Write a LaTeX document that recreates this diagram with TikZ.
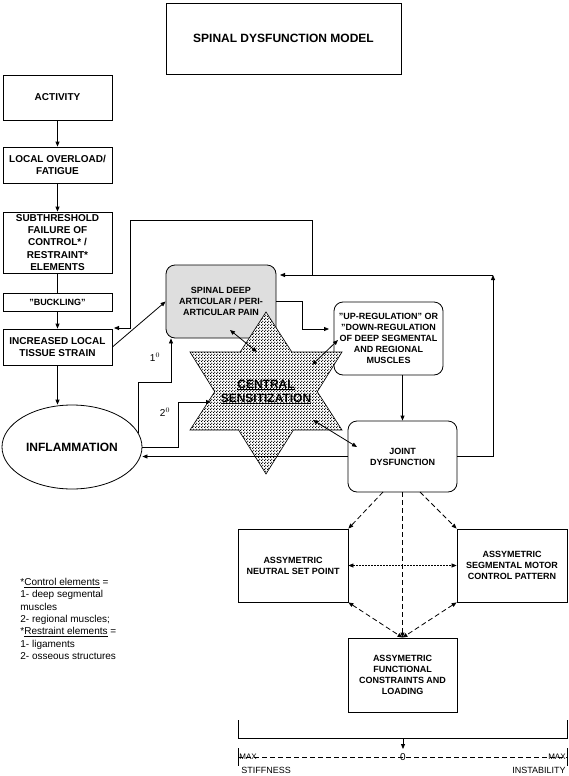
\documentclass[tikz,border=0pt]{standalone}
\usepackage{fontspec}
\setmainfont{Liberation Sans}
\usetikzlibrary{arrows.meta,patterns,shapes.geometric}
\pgfdeclarepatternformonly{densedots}{\pgfpointorigin}{\pgfpoint{3pt}{3pt}}{\pgfpoint{3pt}{3pt}}{%
  \pgfpathcircle{\pgfpoint{0.75pt}{0.75pt}}{0.85pt}%
  \pgfpathcircle{\pgfpoint{2.25pt}{2.25pt}}{0.85pt}%
  \pgfusepath{fill}}
\begin{document}
\begin{tikzpicture}[x=1pt,y=-1pt,line width=0.8pt,
  >={Triangle[length=5pt,width=4pt]},
  box/.style={draw,align=center,inner sep=0pt,font=\bfseries\fontsize{9}{11}\selectfont},
  lbox/.style={box,minimum width=109pt,font=\bfseries\fontsize{10}{12.2}\selectfont},
  rbox/.style={box,rounded corners=9pt,minimum width=109pt},
  sbox/.style={box,minimum width=110pt,minimum height=73pt},
  plain/.style={inner sep=0pt,font=\fontsize{9}{11}\selectfont},
  dsh/.style={dash pattern=on 5pt off 3pt}]
\useasboundingbox (0,0) rectangle (569,776);
% title
\node[box,minimum width=235pt,minimum height=71pt,font=\bfseries\fontsize{12}{14}\selectfont] (title) at (283.5,38.5) {SPINAL DYSFUNCTION MODEL};
% left column
\node[lbox,minimum height=45pt] (act) at (57.5,97.5) {ACTIVITY};
\node[lbox,minimum height=36pt] (over) at (57.5,165) {LOCAL OVERLOAD/\\FATIGUE};
\node[lbox,minimum height=61pt] (sub) at (57.5,242.5) {SUBTHRESHOLD\\FAILURE OF\\CONTROL* /\\RESTRAINT*\\ELEMENTS};
\node[lbox,minimum height=18pt,font=\bfseries\fontsize{9}{11}\selectfont] (buck) at (57.5,302) {"BUCKLING"};
\node[lbox,minimum height=36pt] (inc) at (57.5,347) {INCREASED LOCAL\\TISSUE STRAIN};
\node[draw,ellipse,minimum width=140pt,minimum height=84pt,inner sep=0pt,font=\bfseries\fontsize{12}{14}\selectfont] (infl) at (72,447) {INFLAMMATION};
% right boxes
\node[rbox,minimum width=110pt,minimum height=73pt,fill=black!13] (spinal) at (221,301.5) {SPINAL DEEP\\ARTICULAR / PERI-\\ARTICULAR PAIN};
\node[rbox,minimum height=73pt] (upreg) at (388.5,338.5) {"UP-REGULATION" OR\\"DOWN-REGULATION\\OF DEEP SEGMENTAL\\AND REGIONAL\\MUSCLES};
\node[rbox,minimum height=71pt] (joint) at (402.5,456.5) {JOINT\\DYSFUNCTION};
% star
\fill[white] (266,312) -- (291.8,352) -- (342,352) -- (317.3,391.7) -- (342,430) -- (293.4,430) -- (266,474) -- (238.6,430) -- (190,430) -- (214.7,391.7) -- (190,352) -- (240.2,352) -- cycle;
\filldraw[pattern=densedots,line width=0.6pt] (266,312) -- (291.8,352) -- (342,352) -- (317.3,391.7) -- (342,430) -- (293.4,430) -- (266,474) -- (238.6,430) -- (190,430) -- (214.7,391.7) -- (190,352) -- (240.2,352) -- cycle;
\node[inner sep=0pt,align=center,font=\bfseries\fontsize{12}{14}\selectfont] (cs) at (266,392) {\underline{CENTRAL}\\\underline{SENSITIZATION}};
% bottom boxes
\node[sbox] (nsp) at (293,565.5) {ASSYMETRIC\\NEUTRAL SET POINT};
\node[sbox] (smc) at (512,565.5) {ASSYMETRIC\\SEGMENTAL MOTOR\\CONTROL PATTERN};
\node[box,minimum width=109pt,minimum height=74pt] (fcl) at (402.5,675) {ASSYMETRIC\\FUNCTIONAL\\CONSTRAINTS AND\\LOADING};
% left column arrows
\draw[->] (act.south) -- (over.north);
\draw[->] (over.south) -- (sub.north);
\draw (sub.south) -- (buck.north);
\draw[->] (buck.south) -- (inc.north);
\draw[->] (inc.south) -- (inc.south |- infl.north);
% feedback loop to increased strain
\coordinate (j1) at (312,275);
\coordinate (l1) at (312,220);
\coordinate (l2) at (130,220);
\coordinate (l3) at (130,328);
\coordinate (l4) at (114,328);
\draw[->] (j1) -- (l1) -- (l2) -- (l3) -- (l4);
% joint loop to spinal
\coordinate (r1) at (493,456.5);
\coordinate (r2) at (493,275);
\coordinate (r3) at (280,275);
\draw[->] (joint.east) -- (r1) -- (r2);
\draw[->] (r2) -- (r3);
% increased -> spinal
\draw[->] (inc.east) -- (spinal.west);
% spinal -> upreg
\coordinate (s1) at (302,301.5);
\coordinate (s2) at (302,329);
\coordinate (s3) at (329,329);
\draw[->] (spinal.east) -- (s1) -- (s2) -- (s3);
% upreg -> joint
\draw[->] (upreg.south -| joint.north) -- (joint.north);
% joint -> inflammation
\draw[->] (joint.west) -- (joint.west -| infl.east);
% 1st and 2nd order
\coordinate (f1) at (138,433);
\coordinate (f2) at (138,382);
\coordinate (f3) at (171,382);
\draw[->] (f1) -- (f2) -- (f3) -- (f3 |- spinal.south);
\coordinate (g1) at (178,447);
\coordinate (g2) at (178,402);
\coordinate (g3) at (211,402);
\draw[->] (infl.east) -- (g1) -- (g2) -- (g3);
\node[plain,font=\fontsize{10}{12}\selectfont] (o1) at (155,357) {1$^{0}$};
\node[plain,font=\fontsize{10}{12}\selectfont] (o2) at (165,412) {2$^{0}$};
% star double arrows
\coordinate (d1a) at (230,330); \coordinate (d1b) at (257,352);
\coordinate (d2a) at (312,365); \coordinate (d2b) at (338,340);
\coordinate (d3a) at (313,420); \coordinate (d3b) at (357,447);
\draw[<->] (d1a) -- (d1b);
\draw[<->] (d2a) -- (d2b);
\draw[<->] (d3a) -- (d3b);
% dashed from joint
\coordinate (k1) at (383,492); \coordinate (k2) at (420,492);
\draw[->,dsh] (k1) -- (nsp.north east);
\draw[->,dsh] (k2) -- (smc.north west);
\draw[->,dsh] (joint.south) -- (fcl.north);
\draw[<->,dsh] (nsp.south east) -- (fcl.north);
\draw[<->,dsh] (smc.south west) -- (fcl.north);
\draw[<->,dash pattern=on 1.5pt off 1.5pt,line width=0.5pt] (nsp.east) -- (smc.west);
% bracket and axis
\coordinate (b1) at (238,720); \coordinate (b2) at (238,738);
\coordinate (b3) at (567,738); \coordinate (b4) at (567,720);
\draw (b1) -- (b2) -- (b3) -- (b4);
\coordinate (b5) at (403,738); \coordinate (b6) at (403,749);
\draw[->] (b5) -- (b6);
\coordinate (x1) at (238,748); \coordinate (x2) at (238,766);
\coordinate (x3) at (567,748); \coordinate (x4) at (567,766);
\draw[line width=0.6pt] (x1) -- (x2);
\draw[line width=0.6pt] (x3) -- (x4);
\coordinate (xa) at (238,757); \coordinate (xb) at (567,757);
\draw[line width=0.6pt,dsh] (xa) -- (xb);
\node[plain,anchor=west,font=\fontsize{8}{10}\selectfont] (maxl) at (239,757) {MAX};
\node[plain,anchor=east,font=\fontsize{8}{10}\selectfont] (maxr) at (566,757) {MAX};
\node[plain,font=\fontsize{10}{12}\selectfont] (zero) at (403,757) {0};
\node[plain,anchor=west] (stiff) at (241,770) {STIFFNESS};
\node[plain,anchor=east] (instab) at (566,770) {INSTABILITY};
% legend
\node[inner sep=0pt,anchor=north west,align=left,font=\fontsize{10}{12.3}\selectfont] (legend) at (20,578) {*\underline{Control elements} =\\1- deep segmental\\muscles\\2- regional muscles;\\*\underline{Restraint elements} =\\1- ligaments\\2- osseous structures};
\end{tikzpicture}
\end{document}
